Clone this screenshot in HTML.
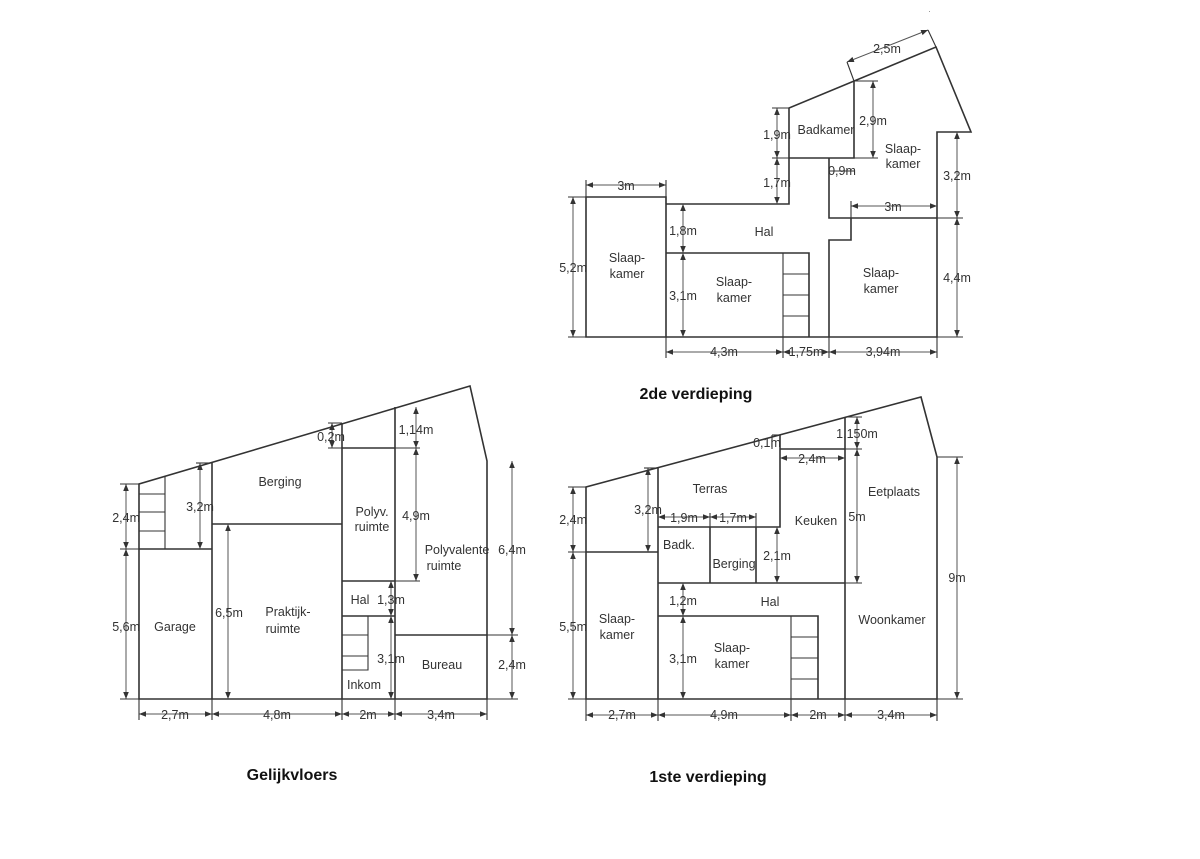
<!DOCTYPE html>
<html><head><meta charset="utf-8"><style>
html,body{margin:0;padding:0;background:#fff;}
svg{display:block;}
.w{stroke:#333;stroke-width:1.6;fill:none;}
.t{stroke:#333;stroke-width:1.1;fill:none;}
.d{stroke:#555;stroke-width:1;fill:none;marker-start:url(#a);marker-end:url(#a);}
text{font-family:"Liberation Sans",sans-serif;font-size:12.5px;fill:#333;}
.m{text-anchor:middle;}
.e{text-anchor:end;}
.h{font-size:16px;font-weight:bold;fill:#111;text-anchor:middle;}
</style></head><body>
<svg width="1200" height="859" viewBox="0 0 1200 859" xmlns="http://www.w3.org/2000/svg">
<defs><marker id="a" viewBox="0 0 10 10" refX="10" refY="5" markerWidth="7" markerHeight="7" orient="auto-start-reverse" markerUnits="userSpaceOnUse"><path d="M0,1 L10,5 L0,9 z" fill="#333"/></marker></defs>
<rect x="929" y="11" width="1" height="1" fill="#999"/>

<!-- ===== 2de verdieping ===== -->
<path class="w" d="M586,197 H666 V337 H586 Z"/>
<path class="w" d="M666,204 H789 V108 L936,47 L971,132 H937 V337 H666"/>
<path class="w" d="M854,81 V158 H789"/>
<path class="w" d="M829,158 V218 H937 M851,218 V240 H829 V337"/>
<path class="w" d="M666,253 H809 V337"/>
<path class="t" d="M783,253 V337 M783,274 H809 M783,295 H809 M783,316 H809"/>
<!-- dims -->
<line class="d" x1="586" y1="185" x2="666" y2="185"/>
<path class="t" d="M586,180 V197 M666,180 V204"/>
<line class="d" x1="573" y1="197" x2="573" y2="337"/>
<path class="t" d="M568,197 H586 M568,337 H586"/>
<line class="d" x1="683" y1="204" x2="683" y2="253"/>
<line class="d" x1="683" y1="253" x2="683" y2="337"/>
<line class="d" x1="777" y1="108" x2="777" y2="158"/>
<line class="d" x1="777" y1="158" x2="777" y2="204"/>
<path class="t" d="M772,108 H789 M772,158 H789"/>
<line class="d" x1="873" y1="81" x2="873" y2="158"/>
<path class="t" d="M854,81 H878 M854,158 H878"/>
<line class="t" x1="829" y1="171" x2="854" y2="171"/>
<line class="d" x1="851" y1="206" x2="937" y2="206"/>
<path class="t" d="M851,201 V218"/>
<line class="d" x1="957" y1="132" x2="957" y2="218"/>
<line class="d" x1="957" y1="218" x2="957" y2="337"/>
<path class="t" d="M937,218 H963 M937,337 H963"/>
<line class="d" x1="666" y1="352" x2="783" y2="352"/>
<line class="d" x1="783" y1="352" x2="829" y2="352"/>
<line class="d" x1="829" y1="352" x2="937" y2="352"/>
<path class="t" d="M666,337 V358 M783,337 V358 M829,337 V358 M937,337 V358"/>
<line class="d" x1="847" y1="62" x2="928" y2="30"/>
<path class="t" d="M847,62 L854,81 M928,30 L936,47"/>
<text x="626" y="190" class="m">3m</text>
<text x="587" y="272" class="e">5,2m</text>
<text x="683" y="235" class="m">1,8m</text>
<text x="683" y="300" class="m">3,1m</text>
<text x="777" y="139" class="m">1,9m</text>
<text x="777" y="187" class="m">1,7m</text>
<text x="873" y="125" class="m">2,9m</text>
<text x="842" y="175" class="m">0,9m</text>
<text x="893" y="211" class="m">3m</text>
<text x="957" y="180" class="m">3,2m</text>
<text x="957" y="282" class="m">4,4m</text>
<text x="724" y="356" class="m">4,3m</text>
<text x="806" y="356" class="m">1,75m</text>
<text x="883" y="356" class="m">3,94m</text>
<text x="887" y="53" class="m">2,5m</text>
<text x="826" y="134" class="m">Badkamer</text>
<text x="903" y="153" class="m">Slaap-</text><text x="903" y="168" class="m">kamer</text>
<text x="764" y="236" class="m">Hal</text>
<text x="627" y="262" class="m">Slaap-</text><text x="627" y="278" class="m">kamer</text>
<text x="734" y="286" class="m">Slaap-</text><text x="734" y="302" class="m">kamer</text>
<text x="881" y="277" class="m">Slaap-</text><text x="881" y="293" class="m">kamer</text>
<text x="696" y="399" class="h">2de verdieping</text>

<!-- ===== Gelijkvloers ===== -->
<path class="w" d="M139,699 V484 L470,386 L487,461 V699 Z"/>
<path class="w" d="M212,463 V699 M139,549 H212 M212,524 H342 M342,423 V699 M395,407 V699 M342,448 H395 M342,581 H395 M342,616 H395 M395,635 H487"/>
<path class="t" d="M165,476 V549 M139,494 H165 M139,512 H165 M139,531 H165"/>
<path class="t" d="M368,616 V670 H342 M342,635 H368 M342,656 H368"/>
<line class="d" x1="126" y1="484" x2="126" y2="549"/>
<line class="d" x1="126" y1="549" x2="126" y2="699"/>
<path class="t" d="M120,484 H139 M120,549 H139 M120,699 H139"/>
<line class="d" x1="200" y1="463" x2="200" y2="549"/>
<path class="t" d="M196,463 H212"/>
<line class="d" x1="228" y1="524" x2="228" y2="699"/>
<line class="d" x1="332" y1="423" x2="332" y2="448"/>
<path class="t" d="M328,423 H342 M328,448 H342"/>
<line class="d" x1="416" y1="407" x2="416" y2="448"/>
<line class="d" x1="416" y1="448" x2="416" y2="581"/>
<path class="t" d="M395,448 H420 M395,581 H420"/>
<line class="d" x1="391" y1="581" x2="391" y2="616"/>
<line class="d" x1="391" y1="616" x2="391" y2="699"/>
<line class="d" x1="512" y1="461" x2="512" y2="635"/>
<line class="d" x1="512" y1="635" x2="512" y2="699"/>
<path class="t" d="M487,635 H518 M487,699 H518"/>
<line class="d" x1="139" y1="714" x2="212" y2="714"/>
<line class="d" x1="212" y1="714" x2="342" y2="714"/>
<line class="d" x1="342" y1="714" x2="395" y2="714"/>
<line class="d" x1="395" y1="714" x2="487" y2="714"/>
<path class="t" d="M139,699 V720 M212,699 V720 M342,699 V720 M395,699 V720 M487,699 V720"/>
<text x="140" y="522" class="e">2,4m</text>
<text x="140" y="631" class="e">5,6m</text>
<text x="200" y="511" class="m">3,2m</text>
<text x="229" y="617" class="m">6,5m</text>
<text x="331" y="441" class="m">0,2m</text>
<text x="416" y="434" class="m">1,14m</text>
<text x="416" y="520" class="m">4,9m</text>
<text x="391" y="604" class="m">1,3m</text>
<text x="391" y="663" class="m">3,1m</text>
<text x="512" y="554" class="m">6,4m</text>
<text x="512" y="669" class="m">2,4m</text>
<text x="175" y="719" class="m">2,7m</text>
<text x="277" y="719" class="m">4,8m</text>
<text x="368" y="719" class="m">2m</text>
<text x="441" y="719" class="m">3,4m</text>
<text x="280" y="486" class="m">Berging</text>
<text x="372" y="516" class="m">Polyv.</text><text x="372" y="531" class="m">ruimte</text>
<text x="457" y="554" class="m">Polyvalente</text><text x="444" y="570" class="m">ruimte</text>
<text x="360" y="604" class="m">Hal</text>
<text x="288" y="616" class="m">Praktijk-</text><text x="283" y="633" class="m">ruimte</text>
<text x="175" y="631" class="m">Garage</text>
<text x="442" y="669" class="m">Bureau</text>
<text x="364" y="689" class="m">Inkom</text>
<text x="292" y="780" class="h">Gelijkvloers</text>

<!-- ===== 1ste verdieping ===== -->
<path class="w" d="M586,699 V487 L921,397 L937,457 V699 Z"/>
<path class="w" d="M658,468 V699 M586,552 H658 M780,435 V527 H658 M710,527 V583 M756,527 V583 M658,583 H845 M780,449 H845 M845,417 V699 M658,616 H818 V699"/>
<path class="t" d="M791,616 V699 M791,637 H818 M791,658 H818 M791,679 H818"/>
<line class="d" x1="573" y1="487" x2="573" y2="552"/>
<line class="d" x1="573" y1="552" x2="573" y2="699"/>
<path class="t" d="M568,487 H586 M568,552 H586 M568,699 H586"/>
<line class="d" x1="648" y1="468" x2="648" y2="552"/>
<path class="t" d="M644,468 H658"/>
<line class="d" x1="658" y1="517" x2="710" y2="517"/>
<line class="d" x1="710" y1="517" x2="756" y2="517"/>
<path class="t" d="M710,513 V527 M756,513 V527"/>
<line class="d" x1="777" y1="527" x2="777" y2="583"/>
<line class="d" x1="683" y1="583" x2="683" y2="616"/>
<line class="d" x1="683" y1="616" x2="683" y2="699"/>
<line class="t" x1="772" y1="435" x2="780" y2="435"/>
<line class="t" x1="772" y1="435" x2="772" y2="449"/>
<line class="d" x1="857" y1="417" x2="857" y2="449"/>
<line class="d" x1="857" y1="449" x2="857" y2="583"/>
<path class="t" d="M845,417 H862 M845,449 H862 M845,583 H862"/>
<line class="d" x1="780" y1="458" x2="845" y2="458"/>
<line class="d" x1="957" y1="457" x2="957" y2="699"/>
<path class="t" d="M937,457 H963 M937,699 H963"/>
<line class="d" x1="586" y1="715" x2="658" y2="715"/>
<line class="d" x1="658" y1="715" x2="791" y2="715"/>
<line class="d" x1="791" y1="715" x2="845" y2="715"/>
<line class="d" x1="845" y1="715" x2="937" y2="715"/>
<path class="t" d="M586,699 V721 M658,699 V721 M791,699 V721 M845,699 V721 M937,699 V721"/>
<text x="587" y="524" class="e">2,4m</text>
<text x="587" y="631" class="e">5,5m</text>
<text x="648" y="514" class="m">3,2m</text>
<text x="684" y="522" class="m">1,9m</text>
<text x="733" y="522" class="m">1,7m</text>
<text x="777" y="560" class="m">2,1m</text>
<text x="683" y="605" class="m">1,2m</text>
<text x="683" y="663" class="m">3,1m</text>
<text x="767" y="447" class="m">0,1m</text>
<text x="857" y="438" class="m">1,150m</text>
<text x="812" y="463" class="m">2,4m</text>
<text x="857" y="521" class="m">5m</text>
<text x="957" y="582" class="m">9m</text>
<text x="622" y="719" class="m">2,7m</text>
<text x="724" y="719" class="m">4,9m</text>
<text x="818" y="719" class="m">2m</text>
<text x="891" y="719" class="m">3,4m</text>
<text x="710" y="493" class="m">Terras</text>
<text x="816" y="525" class="m">Keuken</text>
<text x="894" y="496" class="m">Eetplaats</text>
<text x="679" y="549" class="m">Badk.</text>
<text x="734" y="568" class="m">Berging</text>
<text x="770" y="606" class="m">Hal</text>
<text x="617" y="623" class="m">Slaap-</text><text x="617" y="639" class="m">kamer</text>
<text x="732" y="652" class="m">Slaap-</text><text x="732" y="668" class="m">kamer</text>
<text x="892" y="624" class="m">Woonkamer</text>
<text x="708" y="782" class="h">1ste verdieping</text>
</svg>
</body></html>
